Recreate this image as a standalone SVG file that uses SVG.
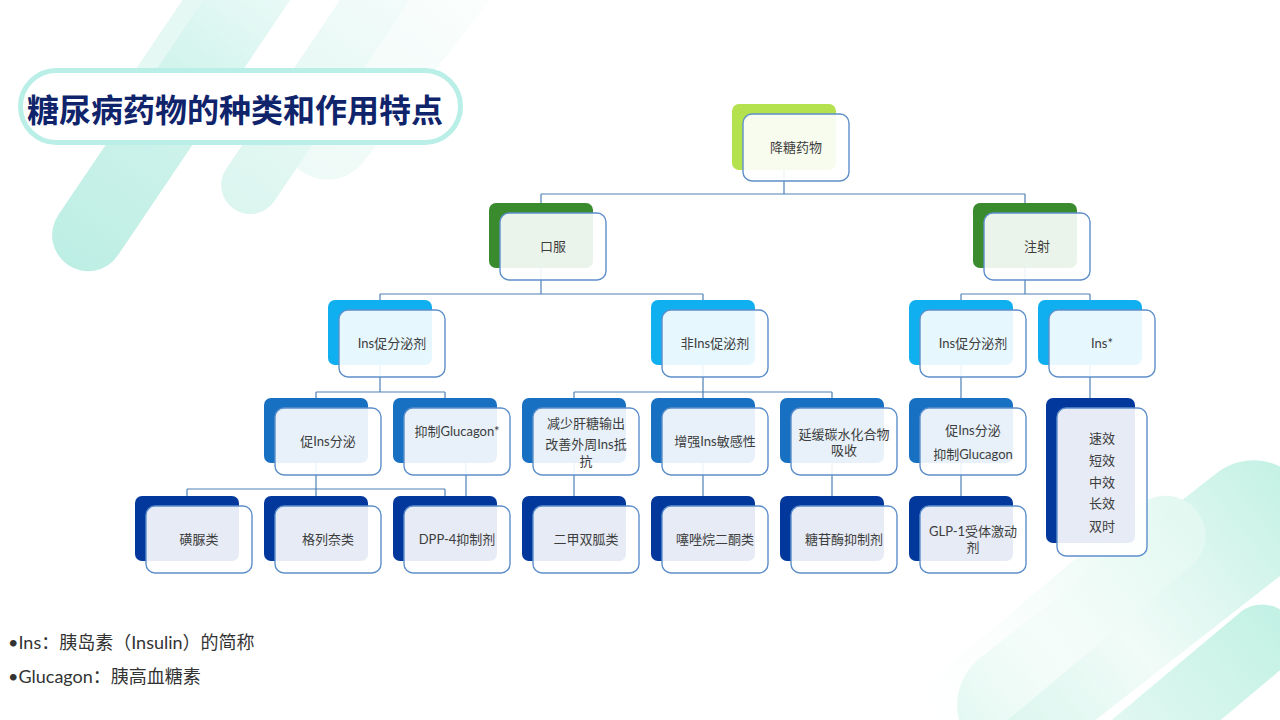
<svg xmlns="http://www.w3.org/2000/svg" width="1280" height="720" viewBox="0 0 1280 720">
<defs>
<linearGradient id="gA" x1="0" y1="0" x2="1" y2="0"><stop offset="0" stop-color="#bdeee4"/><stop offset="0.6" stop-color="#d3f4ed"/><stop offset="1" stop-color="#f0fbf9"/></linearGradient>
<linearGradient id="gB" x1="0" y1="0" x2="1" y2="0"><stop offset="0" stop-color="#dbf5ef"/><stop offset="1" stop-color="#f7fdfc"/></linearGradient>
<linearGradient id="gC" x1="0" y1="0" x2="1" y2="0"><stop offset="0" stop-color="#eefaf7"/><stop offset="1" stop-color="#ffffff"/></linearGradient>
<linearGradient id="gD" x1="0" y1="0" x2="1" y2="0"><stop offset="0" stop-color="#d6f5ec"/><stop offset="0.45" stop-color="#f1fbf8"/><stop offset="1" stop-color="#c3f1e4"/></linearGradient>
<linearGradient id="gE" x1="0" y1="0" x2="1" y2="0"><stop offset="0" stop-color="#c2f1e4"/><stop offset="1" stop-color="#f0fbf8"/></linearGradient>
<linearGradient id="gF" x1="0" y1="0" x2="1" y2="0"><stop offset="0" stop-color="#e2f8f1"/><stop offset="0.5" stop-color="#f7fdfb" stop-opacity="0.8"/><stop offset="1" stop-color="#ffffff" stop-opacity="0"/></linearGradient>
</defs>
<style>
.front{fill:#ffffff;fill-opacity:0.9;stroke:#5d8fcb;stroke-width:1.4}
.lime{fill:#b4e24f}
.green{fill:#3a8b2e}
.lb{fill:#10aff0}
.mb{fill:#1770c1}
.nv{fill:#02379c}
.t{font-family:"Lato","Noto Sans CJK SC",sans-serif;font-size:13px;fill:#3d3d3d;text-anchor:middle}
.conn path{stroke:#4e80b5;stroke-width:1.2;fill:none}
.note{font-family:"Lato","Noto Sans CJK SC",sans-serif;font-size:18px;fill:#333333}
</style>
<rect width="1280" height="720" fill="#ffffff"/>
<g id="background">
<rect x="0" y="-45" width="340" height="90" rx="45" fill="url(#gC)" transform="translate(300,170) rotate(-52)"/>
<rect x="0" y="-29" width="320" height="58" rx="29" fill="url(#gB)" transform="translate(234,209) rotate(-56)"/>
<rect x="0" y="-28" width="300" height="56" rx="28" fill="#dcf5ef" opacity="0.7" transform="translate(115,150) rotate(-56)"/>
<rect x="0" y="-36" width="380" height="72" rx="36" fill="url(#gA)" transform="translate(68,265) rotate(-56)"/>
<rect x="0" y="-60" width="420" height="120" rx="60" fill="url(#gD)" transform="translate(970,742) rotate(-38)"/>
<rect x="0" y="-40" width="400" height="80" rx="40" fill="url(#gF)" transform="translate(1196,510) rotate(140)"/>
<rect x="0" y="-35" width="300" height="70" rx="35" fill="url(#gE)" transform="translate(1289,617) rotate(140)"/>
</g>
<g id="title">
<rect x="20.5" y="70.5" width="440" height="72" rx="36" fill="#ffffff" stroke="#b9efe6" stroke-width="5"/>
<text x="235" y="122" font-family="'Noto Sans CJK SC',sans-serif" font-size="32" font-weight="bold" fill="#10246b" text-anchor="middle">糖尿病药物的种类和作用特点</text>
</g>
<g class="conn" id="connectors">
<path d="M784 170V194M541 194H1025M541 194V203M1025 194V203"/>
<path d="M541 268V294M380 294H703M380 294V300M703 294V300"/>
<path d="M1025 268V294M961 294H1090M961 294V300M1090 294V300"/>
<path d="M380 365V392M316 392H445M316 392V398M445 392V398"/>
<path d="M703 365V392M574 392H832M574 392V398M703 392V398M832 392V398"/>
<path d="M961 365V398M1090 365V398"/>
<path d="M316 463V489M187 489H445M187 489V496M316 489V496M445 489V496"/>
<path d="M466 463V496"/>
<path d="M574 463V496M703 463V496M832 463V496M961 463V496"/>
</g>
<g id="n-root"><rect class="lime" x="732" y="104" width="104" height="66" rx="7"/><rect class="front" x="743" y="114" width="106" height="67" rx="9"/><text class="t" x="796" y="152">降糖药物</text></g>
<g id="n-oral"><rect class="green" x="489" y="203" width="104" height="65" rx="7"/><rect class="front" x="500" y="213" width="106" height="67" rx="9"/><text class="t" x="553" y="251">口服</text></g>
<g id="n-inj"><rect class="green" x="973" y="203" width="104" height="65" rx="7"/><rect class="front" x="984" y="213" width="106" height="67" rx="9"/><text class="t" x="1037" y="251">注射</text></g>
<g id="n-oral-sec"><rect class="lb" x="328" y="300" width="104" height="65" rx="7"/><rect class="front" x="339" y="310" width="106" height="67" rx="9"/><text class="t" x="392" y="348">Ins促分泌剂</text></g>
<g id="n-oral-nonsec"><rect class="lb" x="651" y="300" width="104" height="65" rx="7"/><rect class="front" x="662" y="310" width="106" height="67" rx="9"/><text class="t" x="715" y="348">非Ins促泌剂</text></g>
<g id="n-inj-sec"><rect class="lb" x="909" y="300" width="104" height="65" rx="7"/><rect class="front" x="920" y="310" width="106" height="67" rx="9"/><text class="t" x="973" y="348">Ins促分泌剂</text></g>
<g id="n-ins"><rect class="lb" x="1038" y="300" width="104" height="65" rx="7"/><rect class="front" x="1049" y="310" width="106" height="67" rx="9"/><text class="t" x="1102" y="348">Ins*</text></g>
<g id="n-promote"><rect class="mb" x="264" y="398" width="104" height="65" rx="7"/><rect class="front" x="275" y="408" width="106" height="67" rx="9"/><text class="t" x="328" y="446">促Ins分泌</text></g>
<g id="n-inhibit"><rect class="mb" x="393" y="398" width="104" height="65" rx="7"/><rect class="front" x="404" y="408" width="106" height="67" rx="9"/><text class="t" x="457" y="436">抑制Glucagon*</text></g>
<g id="n-liver"><rect class="mb" x="522" y="398" width="104" height="65" rx="7"/><rect class="front" x="533" y="408" width="106" height="67" rx="9"/><text class="t" x="586" y="428">减少肝糖输出</text><text class="t" x="586" y="449">改善外周Ins抵</text><text class="t" x="586" y="466">抗</text></g>
<g id="n-sensitivity"><rect class="mb" x="651" y="398" width="104" height="65" rx="7"/><rect class="front" x="662" y="408" width="106" height="67" rx="9"/><text class="t" x="715" y="446">增强Ins敏感性</text></g>
<g id="n-absorb"><rect class="mb" x="780" y="398" width="104" height="65" rx="7"/><rect class="front" x="791" y="408" width="106" height="67" rx="9"/><text class="t" x="844" y="439">延缓碳水化合物</text><text class="t" x="844" y="455">吸收</text></g>
<g id="n-inj-action"><rect class="mb" x="909" y="398" width="104" height="65" rx="7"/><rect class="front" x="920" y="408" width="106" height="67" rx="9"/><text class="t" x="973" y="435">促Ins分泌</text><text class="t" x="973" y="459">抑制Glucagon</text></g>
<g id="n-ins-types"><rect class="nv" x="1046" y="398" width="89" height="145" rx="7"/><rect class="front" x="1057" y="408" width="90" height="148" rx="9"/><text class="t" x="1102" y="443">速效</text><text class="t" x="1102" y="465">短效</text><text class="t" x="1102" y="487">中效</text><text class="t" x="1102" y="508">长效</text><text class="t" x="1102" y="531">双时</text></g>
<g id="n-su"><rect class="nv" x="135" y="496" width="104" height="65" rx="7"/><rect class="front" x="146" y="506" width="106" height="67" rx="9"/><text class="t" x="199" y="544">磺脲类</text></g>
<g id="n-glinide"><rect class="nv" x="264" y="496" width="104" height="65" rx="7"/><rect class="front" x="275" y="506" width="106" height="67" rx="9"/><text class="t" x="328" y="544">格列奈类</text></g>
<g id="n-dpp4"><rect class="nv" x="393" y="496" width="104" height="65" rx="7"/><rect class="front" x="404" y="506" width="106" height="67" rx="9"/><text class="t" x="457" y="544">DPP-4抑制剂</text></g>
<g id="n-metformin"><rect class="nv" x="522" y="496" width="104" height="65" rx="7"/><rect class="front" x="533" y="506" width="106" height="67" rx="9"/><text class="t" x="586" y="544">二甲双胍类</text></g>
<g id="n-tzd"><rect class="nv" x="651" y="496" width="104" height="65" rx="7"/><rect class="front" x="662" y="506" width="106" height="67" rx="9"/><text class="t" x="715" y="544">噻唑烷二酮类</text></g>
<g id="n-agi"><rect class="nv" x="780" y="496" width="104" height="65" rx="7"/><rect class="front" x="791" y="506" width="106" height="67" rx="9"/><text class="t" x="844" y="544">糖苷酶抑制剂</text></g>
<g id="n-glp1"><rect class="nv" x="909" y="496" width="104" height="65" rx="7"/><rect class="front" x="920" y="506" width="106" height="67" rx="9"/><text class="t" x="973" y="536">GLP-1受体激动</text><text class="t" x="973" y="552">剂</text></g>
<g id="notes">
<text class="note" x="8" y="649">•Ins：胰岛素（Insulin）的简称</text>
<text class="note" x="8" y="683">•Glucagon：胰高血糖素</text>
</g>
</svg>
